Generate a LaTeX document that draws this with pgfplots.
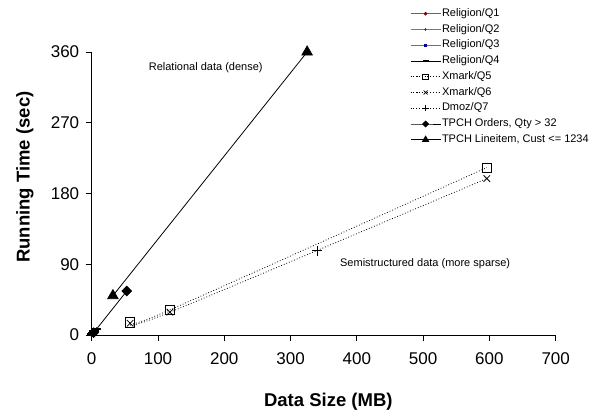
\documentclass[border=0pt]{standalone}
\usepackage{fontspec}
\setmainfont{Liberation Sans}
\usepackage{pgfplots}
\pgfplotsset{compat=1.18}
\definecolor{qonel}{HTML}{A84848}
\definecolor{qonem}{HTML}{800000}
\definecolor{qtwol}{HTML}{20A0A0}
\definecolor{qtwom}{HTML}{006060}
\definecolor{qthreel}{HTML}{6060FF}
\definecolor{qthreem}{HTML}{0000A0}
\begin{document}
\begin{tikzpicture}
\path[use as bounding box] (0,0) rectangle (594pt,416pt);
\begin{axis}[
  at={(91.7pt,81pt)}, anchor=south west,
  scale only axis, width=464pt, height=283pt,
  xmin=0, xmax=700, ymin=0, ymax=360,
  xtick={0,100,...,700}, ytick={0,90,...,360},
  axis lines=left, axis line style={-, line width=0.8pt},
  tick align=outside, major tick length=6pt,
  tick style={black, line width=0.8pt},
  xtick pos=left, ytick pos=left,
  clip=false,
  /pgf/number format/assume math mode=true,
  tick label style={font=\fontsize{17}{20}\selectfont},
  xticklabel style={yshift=-8pt},
  yticklabel style={xshift=-3pt},
  xlabel={Data Size (MB)}, ylabel={Running Time (sec)},
  label style={font=\fontsize{18.5}{22}\selectfont\bfseries},
  xlabel style={at={(axis description cs:0.51,-0.237)}, anchor=center},
  ylabel style={at={(axis description cs:-0.144,0.558)}, anchor=center, rotate=0},
  legend style={at={(axis description cs:0.686,1.158)}, anchor=north west,
    draw=none, fill=none, inner sep=0pt, row sep=3.25pt,
    font=\fontsize{11}{13}\selectfont,
    nodes={text height=8pt, text depth=2.5pt, inner sep=1pt}},
  legend cell align=left,
  legend image code/.code={
    \draw[mark repeat=2, mark phase=2, #1, every mark/.append style={scale=0.6}]
      plot coordinates {(0pt,0pt) (15pt,0pt) (30pt,0pt)};},
]
\addplot[qonel, line width=0.8pt, mark=*, mark size=2.2pt, mark options={qonem, fill=qonem}]
  coordinates {(1,1) (2,2) (4,3) (7,5)};
\addlegendentry{Religion/Q1}
\addplot[qtwol, line width=0.8pt, mark=+, mark size=3pt, mark options={qtwom}]
  coordinates {(1,1) (2,2) (4,4) (7,6)};
\addlegendentry{Religion/Q2}
\addplot[qthreel, line width=0.8pt, mark=square*, mark size=1.5pt, mark options={qthreem, fill=qthreem}]
  coordinates {(1,1) (2,2) (4,4) (7,7)};
\addlegendentry{Religion/Q3}
\addplot[black, line width=0.8pt, mark=-, mark size=5pt, mark options={line width=2pt}]
  coordinates {(1,1) (2,2) (4,5) (7,8)};
\addlegendentry{Religion/Q4}
\addplot[black, line width=0.8pt, dash pattern=on 0.8pt off 2pt, smooth, mark=square, mark size=4.6pt, mark options={solid, line width=0.8pt}]
  coordinates {(58,16) (118,32) (596,213)};
\addlegendentry{Xmark/Q5}
\addplot[black, line width=0.8pt, dash pattern=on 0.8pt off 2pt, smooth, mark=x, mark size=4.6pt, mark options={solid, line width=0.8pt}]
  coordinates {(58,15) (118,29) (596,199)};
\addlegendentry{Xmark/Q6}
\addplot[black, line width=0.8pt, dash pattern=on 0.8pt off 2pt, mark=+, mark size=5pt, mark options={solid, line width=0.8pt}]
  coordinates {(340,107)};
\addlegendentry{Dmoz/Q7}
\addplot[black, line width=0.8pt, mark=square*, mark size=3.4pt, mark options={rotate=45, fill=black}]
  coordinates {(3,3) (53,56)};
\addlegendentry{TPCH Orders, Qty > 32}
\addplot[black, line width=0.8pt, mark=triangle*, mark size=6pt, mark options={fill=black}]
  coordinates {(32,50) (325,360)};
\addlegendentry{TPCH Lineitem, Cust <= 1234}
\node[font=\fontsize{11}{13}\selectfont] at (axis cs:172,340) {Relational data (dense)};
\node[font=\fontsize{11}{13}\selectfont] at (axis cs:503,91) {Semistructured data (more sparse)};
\end{axis}
\end{tikzpicture}
\end{document}
